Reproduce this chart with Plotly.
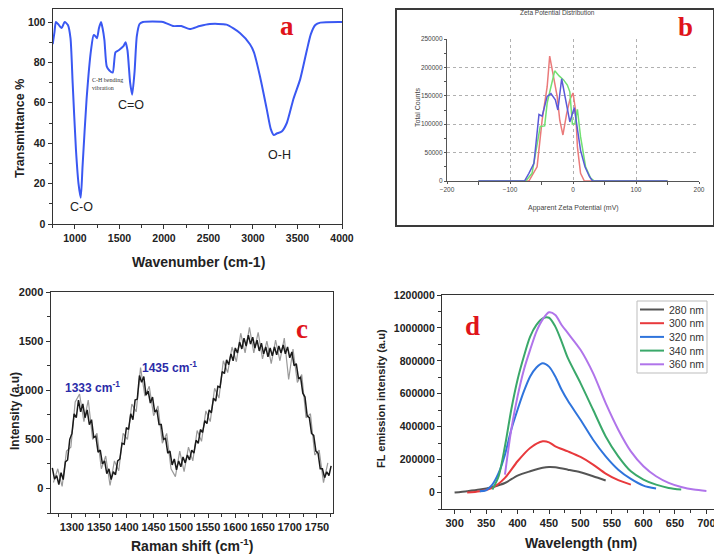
import plotly.graph_objects as go

# ---------------- Panel a : FTIR ----------------
ftir_wavenumber = [750, 770, 786, 810, 850, 884, 921, 950, 974, 1011,
                   1040, 1065, 1086, 1131, 1180, 1210, 1230, 1248, 1270, 1293,
                   1310, 1331, 1357, 1387, 1424, 1455, 1492, 1545, 1568, 1590,
                   1620, 1643, 1669, 1695, 1726, 1763, 1989, 2101, 2195, 2289,
                   2402, 2515, 2703, 2853, 2966, 3011, 3079, 3154, 3200, 3235,
                   3267, 3323, 3380, 3455, 3530, 3605, 3650, 3700, 3756, 4000]
ftir_transmittance = [89, 95, 100, 99, 97, 100, 98.5, 92, 70, 37,
                      20, 13, 29, 62, 86, 93.5, 93, 92, 97, 100,
                      97, 91, 78, 76, 75, 85, 86, 88, 90, 86,
                      70, 64, 75, 93, 99, 100, 100, 98, 98, 96.5,
                      98, 99, 98.7, 94.6, 89, 85, 73, 57, 47, 44,
                      44.8, 45.8, 50, 62, 71.6, 86, 94, 98.5, 99.7, 100]
ftir_x_ticks = [1000, 1500, 2000, 2500, 3000, 3500, 4000]

# ---------------- Panel b : Zeta potential ----------------
zeta_red_x = [-150, -70, -57, -49, -41, -37, -30, -25, -21, -16, -10, -5, 0, 4, 7, 12, 18, 150]
zeta_red_y = [0, 0, 25000, 107000, 166000, 220000, 178000, 148000, 107000, 81000, 119000,
              143000, 155000, 125000, 60000, 13500, 0, 0]
zeta_green_x = [-150, -75, -65, -57, -52, -45, -41, -35, -29, -22, -15, -9, -5, -1, 3, 7, 12, 20, 28, 34, 150]
zeta_green_y = [0, 0, 13500, 60000, 96000, 97000, 137000, 166000, 194000, 185000, 178000,
                169000, 157000, 100000, 101000, 126000, 78000, 25000, 5000, 0, 0]
zeta_blue_x = [-150, -77, -70, -62, -54, -49, -41, -35, -28, -24, -18, -12, -5, 2, 6, 12, 19, 26, 31, 150]
zeta_blue_y = [0, 0, 13500, 31000, 117000, 114000, 149000, 154000, 143000, 125000, 180000,
               143000, 104000, 129000, 101000, 54000, 25000, 8000, 0, 0]

# ---------------- Panel c : Raman ----------------
raman_shift = list(range(1264, 1777, 4))
raman_intensity = [
    210, 95, 130, 40, 160, 90, 270, 290, 500, 560,
    760, 720, 900, 780, 860, 720, 800, 650, 700, 520,
    530, 370, 390, 250, 280, 150, 200, 90, 170, 140,
    280, 300, 460, 450, 620, 600, 760, 700, 900, 910,
    1150, 1080, 1140, 950, 990, 870, 930, 780, 800, 650,
    650, 500, 510, 360, 380, 240, 300, 190, 280, 220,
    320, 260, 340, 290, 390, 360, 490, 460, 600, 570,
    690, 660, 800, 770, 920, 890, 1040, 1030, 1190, 1170,
    1310, 1260, 1370, 1300, 1430, 1380, 1490, 1420, 1530, 1450,
    1560, 1470, 1540, 1430, 1510, 1400, 1480, 1370, 1440, 1340,
    1430, 1350, 1440, 1360, 1450, 1380, 1460, 1370, 1440, 1330,
    1390, 1250, 1270, 1120, 1130, 970, 930, 740, 720, 560,
    540, 380, 360, 200, 200, 110, 170, 130, 230]
raman_shift_b = list(range(1266, 1771, 8))
raman_intensity_b = [
    60, 200, 20, 380, 420, 880, 960, 680, 900, 500,
    560, 200, 330, 30, 280, 180, 560, 500, 860, 780,
    1230, 940, 1040, 740, 840, 460, 560, 200, 120, 380,
    170, 420, 280, 590, 480, 790, 680, 1020, 920, 1300,
    1180, 1440, 1290, 1580, 1380, 1640, 1380, 1590, 1320, 1500,
    1270, 1510, 1300, 1530, 1110, 1420, 1080, 1160, 720, 760,
    340, 390, 60, 260]

# ---------------- Panel d : Fluorescence ----------------
fl_names = ["280 nm", "300 nm", "320 nm", "340 nm", "360 nm"]
fl_colors = ["#555555", "#e8393c", "#2f74dc", "#3aa86a", "#b074ea"]
fl_280_x = [300, 320, 340, 360, 380, 400, 420, 440, 450, 460, 480, 500, 520, 540]
fl_280_y = [0, 8000, 18000, 34000, 58000, 103000, 129000, 150000, 155000, 153000, 139000, 123000, 99000, 73000]
fl_300_x = [320, 340, 360, 380, 400, 420, 440, 450, 460, 480, 500, 520, 540, 560, 580]
fl_300_y = [0, 8000, 28000, 89000, 190000, 271000, 311000, 305000, 281000, 250000, 216000,
            170000, 115000, 75000, 48000]
fl_320_x = [340, 350, 360, 370, 380, 390, 400, 410, 420, 430, 440, 450, 460, 470, 480, 500,
            520, 540, 560, 580, 600, 620]
fl_320_y = [8000, 14000, 48000, 119000, 230000, 382000, 503000, 614000, 705000, 760000, 786000,
            765000, 705000, 624000, 557000, 442000, 321000, 220000, 139000, 83000, 42000, 24000]
fl_340_x = [360, 370, 380, 390, 400, 410, 420, 430, 440, 450, 460, 470, 480, 500, 520, 540,
            560, 580, 600, 620, 640, 660]
fl_340_y = [18000, 99000, 281000, 503000, 685000, 826000, 947000, 1018000, 1058000, 1062000,
            1008000, 917000, 816000, 665000, 503000, 341000, 220000, 129000, 79000, 48000, 28000, 18000]
fl_360_x = [380, 390, 400, 410, 420, 430, 440, 450, 460, 470, 480, 500, 520, 540, 560, 580,
            600, 620, 640, 660, 680, 700]
fl_360_y = [109000, 382000, 584000, 745000, 867000, 978000, 1052000, 1095000, 1079000, 1018000,
            968000, 867000, 725000, 543000, 382000, 250000, 160000, 99000, 59000, 34000, 18000, 10000]
fl_series_x = [fl_280_x, fl_300_x, fl_320_x, fl_340_x, fl_360_x]
fl_series_y = [fl_280_y, fl_300_y, fl_320_y, fl_340_y, fl_360_y]

# The page body has an 8px margin, so the figure starts 8px in from the window corner.
OFF = 8
W, H = 722 - OFF, 555 - OFF


def px(v):
    return (v - OFF) / W


def py(v):
    return 1 - (v - OFF) / H


fig = go.Figure()

# Panel a
fig.add_trace(go.Scatter(x=ftir_wavenumber, y=ftir_transmittance, mode="lines",
                         line=dict(color="#3a58f2", width=2, shape="spline", smoothing=0.6),
                         xaxis="x", yaxis="y", showlegend=False))

# Panel b
for xs, ys, col in [(zeta_red_x, zeta_red_y, "#ea7a7a"),
                    (zeta_green_x, zeta_green_y, "#72e072"),
                    (zeta_blue_x, zeta_blue_y, "#5a5ad8")]:
    fig.add_trace(go.Scatter(x=xs, y=ys, mode="lines", line=dict(color=col, width=1.5),
                             xaxis="x2", yaxis="y2", showlegend=False))

# Panel c
fig.add_trace(go.Scatter(x=raman_shift_b, y=raman_intensity_b, mode="lines",
                         line=dict(color="#9a9a9a", width=1.2), xaxis="x3", yaxis="y3", showlegend=False))
fig.add_trace(go.Scatter(x=raman_shift, y=raman_intensity, mode="lines",
                         line=dict(color="#1a1a1a", width=1.5), xaxis="x3", yaxis="y3", showlegend=False))

# Panel d
for name, col, xs, ys in zip(fl_names, fl_colors, fl_series_x, fl_series_y):
    fig.add_trace(go.Scatter(x=xs, y=ys, mode="lines", name=name,
                             line=dict(color=col, width=2, shape="spline", smoothing=0.8),
                             xaxis="x4", yaxis="y4", showlegend=False))

bold_tick = dict(family="Liberation Sans", size=11, color="#222", weight="bold")
box_axis = dict(showline=True, linecolor="#333", linewidth=1.3, mirror=True, ticks="outside",
                ticklen=4, tickwidth=1.2, tickcolor="#333", showgrid=False, zeroline=False,
                tickfont=bold_tick, automargin=False)

small_font = dict(family="Liberation Sans", size=6.5, color="#444")
b_axis = dict(showline=True, linecolor="#555", linewidth=1.2, ticks="outside", ticklen=2,
              tickcolor="#555", showgrid=True, gridcolor="#b0b0b0", griddash="dot", gridwidth=1,
              zeroline=False, tickfont=small_font, automargin=False)

# panel a: 100 % at y=22 px, 0 % at y=224 px; top of the box sits at y=8.5 px
a_top = 100 + (22 - 8.5) * 100 / (224 - 22)

fig.update_layout(
    width=W, height=H, margin=dict(l=0, r=0, t=0, b=0),
    paper_bgcolor="white", plot_bgcolor="white",
    xaxis=dict(box_axis, domain=[px(52.7), px(342)], range=[750, 4000], tickvals=ftir_x_ticks,
               minor=dict(dtick=250, tick0=750, ticks="outside", ticklen=2.5, tickcolor="#333"),
               anchor="y", tickfont=dict(bold_tick, size=10.5)),
    yaxis=dict(box_axis, domain=[py(224), py(8.5)], range=[0, a_top], dtick=20,
               minor=dict(dtick=10, ticks="outside", ticklen=2.5, tickcolor="#333"),
               anchor="x", tickfont=dict(bold_tick, size=10.5)),
    xaxis2=dict(b_axis, domain=[px(447), px(699)], range=[-200, 200], dtick=100,
                minor=dict(dtick=50, ticks="outside", ticklen=3, tickcolor="#555"), anchor="y2"),
    yaxis2=dict(b_axis, domain=[py(181), py(39)], range=[0, 250000], dtick=50000, tickformat="d",
                minor=dict(dtick=25000, ticks="outside", ticklen=2, tickcolor="#555"), anchor="x2"),
    xaxis3=dict(box_axis, domain=[px(50.7), px(333.3)], range=[1261, 1780], dtick=50,
                minor=dict(dtick=25, ticks="outside", ticklen=2.5, tickcolor="#333"), anchor="y3"),
    yaxis3=dict(box_axis, domain=[py(513), py(292)], range=[-250, 2000], dtick=500,
                minor=dict(dtick=250, ticks="outside", ticklen=2.5, tickcolor="#333"), anchor="x3"),
    xaxis4=dict(box_axis, domain=[px(442), px(719)], range=[280, 720], dtick=50, tick0=300,
                minor=dict(dtick=25, ticks="outside", ticklen=2.5, tickcolor="#333"), anchor="y4"),
    yaxis4=dict(box_axis, domain=[py(509), py(295)], range=[-100000, 1200000], dtick=200000,
                tickformat="d", minor=dict(dtick=100000, ticks="outside", ticklen=2.5, tickcolor="#333"),
                anchor="x4", tickfont=dict(bold_tick, size=10.5)),
)

ann = []
title_font = dict(family="Liberation Sans", size=14, color="#222", weight="bold")


def paper_text(x, y, text, font, angle=0, xanchor="center", yanchor="middle"):
    ann.append(dict(xref="paper", yref="paper", x=px(x), y=py(y), text=text, showarrow=False,
                    font=font, textangle=angle, xanchor=xanchor, yanchor=yanchor))


def data_text(xr, yr, x, y, text, font, xanchor="center", yanchor="middle", align="center"):
    ann.append(dict(xref=xr, yref=yr, x=x, y=y, text=text, showarrow=False, font=font,
                    xanchor=xanchor, yanchor=yanchor, align=align))


letter_font = dict(family="Liberation Serif", size=27, color="#e0141a", weight="bold")

# Panel a texts
paper_text(198, 262, "Wavenumber (cm-1)", dict(title_font, size=14))
paper_text(20, 129, "Transmittance %", dict(title_font, size=12.5), angle=-90)
data_text("x", "y", 1068, 8.5, "C-O", dict(family="Liberation Sans", size=12.5, color="#222"))
data_text("x", "y", 1632, 59, "C=O", dict(family="Liberation Sans", size=12.5, color="#222"))
data_text("x", "y", 3297, 34, "O-H", dict(family="Liberation Sans", size=12.5, color="#222"))
data_text("x", "y", 1168, 69.5, "C-H bending<br>vibration",
          dict(family="Liberation Serif", size=6, color="#333"), xanchor="left", align="left")
data_text("x", "y", 3380, 98, "a", letter_font)

# Panel b texts
paper_text(557, 13, "Zeta Potential Distribution", small_font)
paper_text(573, 208, "Apparent Zeta Potential (mV)", dict(small_font, size=7))
paper_text(417, 108, "Total Counts", dict(small_font, size=7), angle=-90)
paper_text(685, 27, "b", letter_font)

# Panel c texts
paper_text(192, 545, "Raman shift (cm<sup>-1</sup>)", dict(title_font, size=14))
paper_text(15, 411, "Intensity (a.u)", dict(title_font, size=12), angle=-90)
blue_lbl = dict(family="Liberation Sans", size=12, color="#2b2ba8", weight="bold")
data_text("x3", "y3", 1337, 1030, "1333 cm<sup>-1</sup>", blue_lbl)
data_text("x3", "y3", 1480, 1240, "1435 cm<sup>-1</sup>", blue_lbl)
data_text("x3", "y3", 1722, 1620, "c", letter_font)

# Panel d texts
paper_text(581, 543, "Wavelength (nm)", dict(title_font, size=14))
paper_text(381, 399, "FL emission intensity (a.u)", dict(title_font, size=11), angle=-90)
data_text("x4", "y4", 328, 1010000, "d", letter_font)

shapes = []
# Panel b outer frame
shapes.append(dict(type="rect", xref="paper", yref="paper", x0=px(396), x1=px(714), y0=py(226),
                   y1=py(9), line=dict(color="#3a3a3a", width=2)))

# Panel d legend (drawn manually for compact spacing)
leg_x0, leg_x1, leg_y0 = 637, 707, 301
shapes.append(dict(type="rect", xref="paper", yref="paper", x0=px(leg_x0), x1=px(leg_x1),
                   y0=py(leg_y0 + 72), y1=py(leg_y0), line=dict(color="#bdbdbd", width=1),
                   fillcolor="white", layer="above"))
for i, (name, col) in enumerate(zip(fl_names, fl_colors)):
    yy = leg_y0 + 8.5 + i * 13.7
    shapes.append(dict(type="line", xref="paper", yref="paper", x0=px(640), x1=px(664),
                       y0=py(yy), y1=py(yy), line=dict(color=col, width=2)))
    paper_text(667, yy, name, dict(family="Liberation Sans", size=10.5, color="#333"), xanchor="left")

fig.update_layout(annotations=ann, shapes=shapes)
fig.write_html("out.html")
